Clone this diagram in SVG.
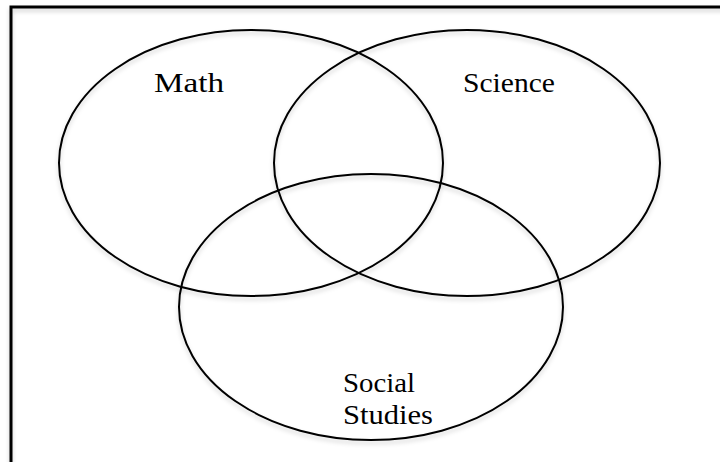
<svg xmlns="http://www.w3.org/2000/svg" width="720" height="462" viewBox="0 0 720 462">
<defs>
<filter id="sh" x="-5%" y="-5%" width="110%" height="115%">
<feDropShadow dx="0" dy="3" stdDeviation="2" flood-color="#000" flood-opacity="0.18"/>
</filter>
</defs>
<style>
.c{fill:none;stroke:#000;stroke-width:2;filter:url(#sh)}
.t{font-family:"Liberation Serif",serif;font-size:28px;fill:#000}
</style>
<rect width="720" height="462" fill="#fff"/>
<path d="M11,470 V7 H730" fill="none" stroke="#000" stroke-width="3" filter="url(#sh)"/>
<g id="math">
<ellipse class="c" cx="251" cy="163" rx="192" ry="133"/>
<text class="t" x="154" y="92" textLength="70" lengthAdjust="spacingAndGlyphs">Math</text>
</g>
<g id="science">
<ellipse class="c" cx="467" cy="163" rx="193" ry="133"/>
<text class="t" x="463" y="92" textLength="92" lengthAdjust="spacingAndGlyphs">Science</text>
</g>
<g id="social">
<ellipse class="c" cx="371" cy="307" rx="192" ry="133"/>
<text class="t" x="343" y="392" textLength="72" lengthAdjust="spacingAndGlyphs">Social</text>
<text class="t" x="343" y="424" textLength="90" lengthAdjust="spacingAndGlyphs">Studies</text>
</g>
<g id="connectors"/>
</svg>
